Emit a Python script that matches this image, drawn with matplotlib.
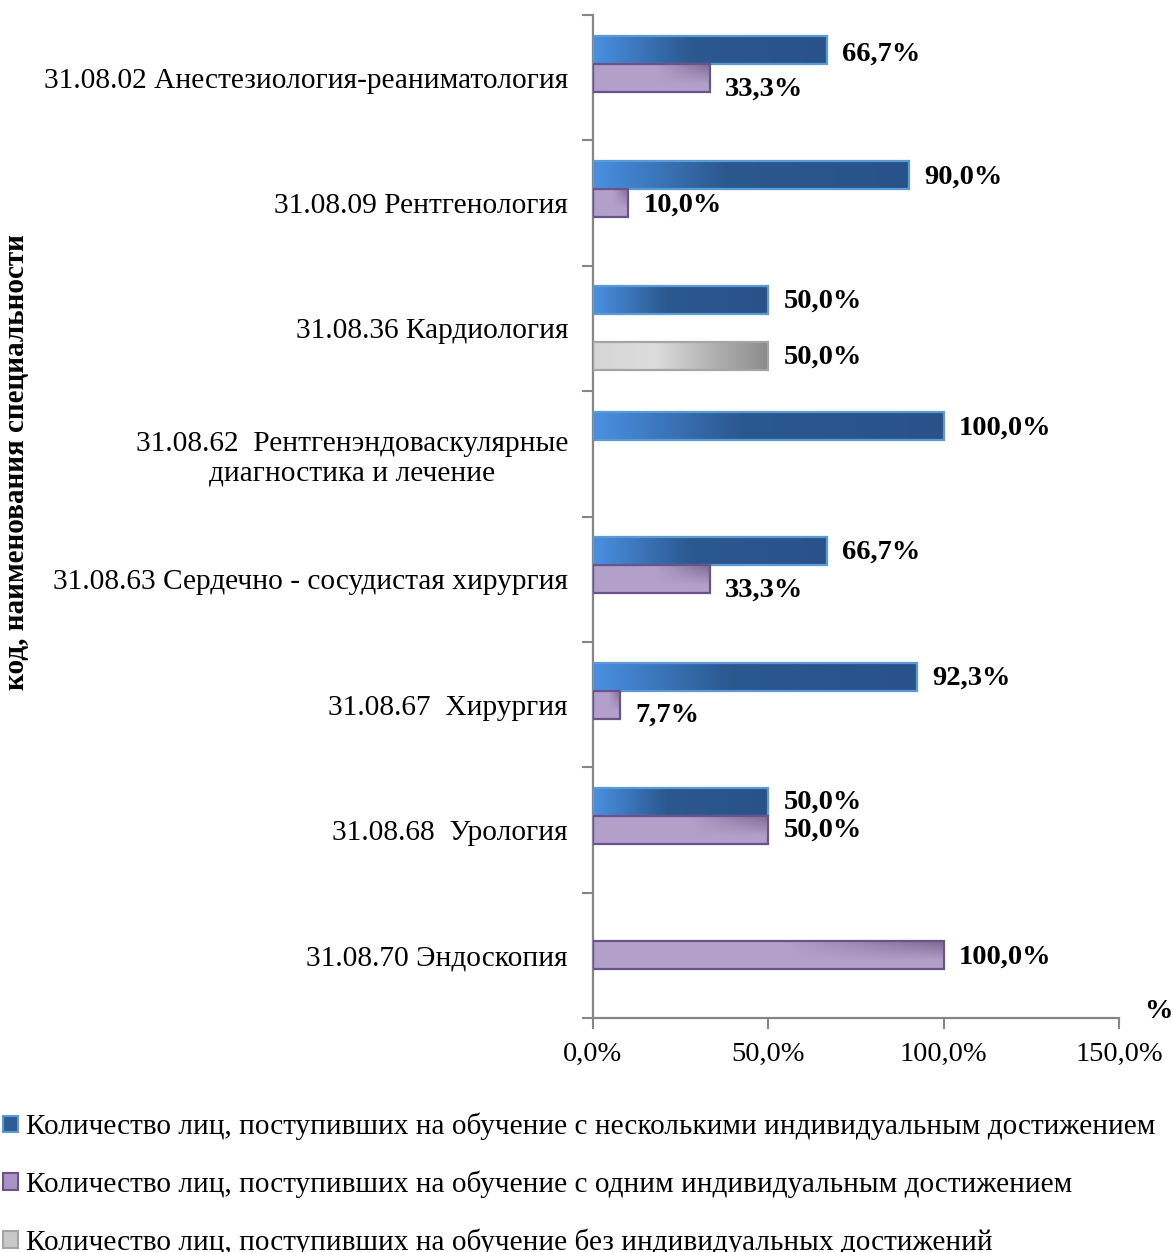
import numpy as np
import matplotlib
matplotlib.use("Agg")
import matplotlib.pyplot as plt
from matplotlib.colors import LinearSegmentedColormap
from matplotlib.patches import Rectangle

plt.rcParams["font.family"] = ["Liberation Serif", "DejaVu Serif"]

categories = [
    "31.08.02 Анестезиология-реаниматология",
    "31.08.09 Рентгенология",
    "31.08.36 Кардиология",
    "31.08.62  Рентгенэндоваскулярные\nдиагностика и лечение",
    "31.08.63 Сердечно - сосудистая хирургия",
    "31.08.67  Хирургия",
    "31.08.68  Урология",
    "31.08.70 Эндоскопия",
]
several = [66.7, 90.0, 50.0, 100.0, 66.7, 92.3, 50.0, 0.0]
one = [33.3, 10.0, 0.0, 0.0, 33.3, 7.7, 50.0, 100.0]
none_ = [0.0, 0.0, 50.0, 0.0, 0.0, 0.0, 0.0, 0.0]
series_names = [
    "Количество лиц, поступивших на обучение с несколькими индивидуальным достижением",
    "Количество лиц, поступивших на обучение с одним индивидуальным достижением",
    "Количество лиц, поступивших на обучение без индивидуальных достижений",
]
xticks = [0, 50, 100, 150]
xtick_labels = ["0,0%", "50,0%", "100,0%", "150,0%"]

# label nudges (pixels downward) so overlapping labels sit like the original
nudge = [
    [4, 2, 1, 2, 1, 2, 0, 0],
    [11, 2, 0, 0, 11, 11, 0, 2],
    [0, 0, 1, 0, 0, 0, 0, 0],
]

blue_cm = LinearSegmentedColormap.from_list(
    "b", [(0, "#4A90E2"), (0.42, "#2B588F"), (1, "#29528A")])
gray_cm = LinearSegmentedColormap.from_list(
    "g", [(0, "#D6D6D6"), (0.35, "#DCDCDC"), (1, "#8A8A8A")])
purple_cm = LinearSegmentedColormap.from_list(
    "p", [(0, "#B3A0CA"), (1, "#7D6A93")])


def grad_img(kind):
    u = np.linspace(0, 1, 256)
    if kind == "purple":
        v = np.linspace(0, 1, 32)[:, None]
        d = np.clip((u[None, :] - 0.55) / 0.45, 0, 1) * np.clip(1 - 1.4 * v, 0, 1)
        return purple_cm(d)
    cm = blue_cm if kind == "blue" else gray_cm
    return cm(u[None, :])


fig = plt.figure(figsize=(11.73, 12.52), dpi=100)
ax = fig.add_axes([593 / 1173, 1 - 1018 / 1252, 526 / 1173, 1003 / 1252])

y = np.arange(len(categories))
h = 0.223
styles = [("blue", "#5B9BD5"), ("purple", "#6A528A"), ("gray", "#A5A5A5")]
all_series = [several, one, none_]
for i, (vals, (kind, ec)) in enumerate(zip(all_series, styles)):
    bars = ax.barh(y + (i - 1) * h, vals, height=h, facecolor="none",
                   edgecolor=ec, linewidth=1.6, zorder=3)
    img = grad_img(kind)
    for j, (b, v) in enumerate(zip(bars, vals)):
        if v <= 0:
            b.set_visible(False)
            continue
        x0, y0, w, hh = b.get_x(), b.get_y(), b.get_width(), b.get_height()
        ax.imshow(img, extent=(x0, x0 + w, y0 + hh, y0), origin="upper",
                  aspect="auto", interpolation="bilinear", zorder=2)
        ax.annotate(f"{v:.1f}%".replace(".", ","), (x0 + w, y0 + hh / 2),
                    xytext=(11, -nudge[i][j] / 1.389), textcoords="offset points",
                    ha="left", va="center", fontsize=20.5, fontweight="bold")

ax.set_xlim(0, 150)
ax.set_ylim(len(categories) - 0.5, -0.5)
ax.set_xticks(xticks)
ax.set_xticklabels(xtick_labels, fontsize=20.5)
ax.set_yticks(y)
ax.set_yticklabels(categories, fontsize=21.2)
for lab in ax.get_yticklabels():
    lab.set_multialignment("center")
ax.set_yticks(np.arange(-0.5, len(categories)), minor=True)
ax.tick_params(axis="y", which="major", length=0, pad=18)
ax.tick_params(axis="y", which="minor", length=8, width=1.5, color="#868686")
ax.tick_params(axis="x", length=8, width=1.5, color="#868686", pad=9)
for s in ["top", "right"]:
    ax.spines[s].set_visible(False)
for s in ["left", "bottom"]:
    ax.spines[s].set_color("#868686")
    ax.spines[s].set_linewidth(1.6)

fig.text(17 / 1173, 1 - 462 / 1252, "код, наименования специальности",
         rotation=90, ha="center", va="center", fontsize=21, fontweight="bold")
fig.text(1158 / 1173, 1 - 1012 / 1252, "%", ha="center", va="center",
         fontsize=20.5, fontweight="bold")

handles = [
    Rectangle((0, 0), 1, 1, facecolor="#2E5C94", edgecolor="#5B9BD5", linewidth=1.5),
    Rectangle((0, 0), 1, 1, facecolor="#A893C2", edgecolor="#6A528A", linewidth=1.5),
    Rectangle((0, 0), 1, 1, facecolor="#C8C8C8", edgecolor="#A5A5A5", linewidth=1.5),
]
fig.legend(handles, series_names, loc="upper left",
           bbox_to_anchor=(3 / 1173, 1 - 1113 / 1252), frameon=False, fontsize=21.1,
           handlelength=0.5, handleheight=0.5, handletextpad=0.3,
           labelspacing=1.03, borderaxespad=0, borderpad=0)

fig.savefig("out.png", dpi=100)
